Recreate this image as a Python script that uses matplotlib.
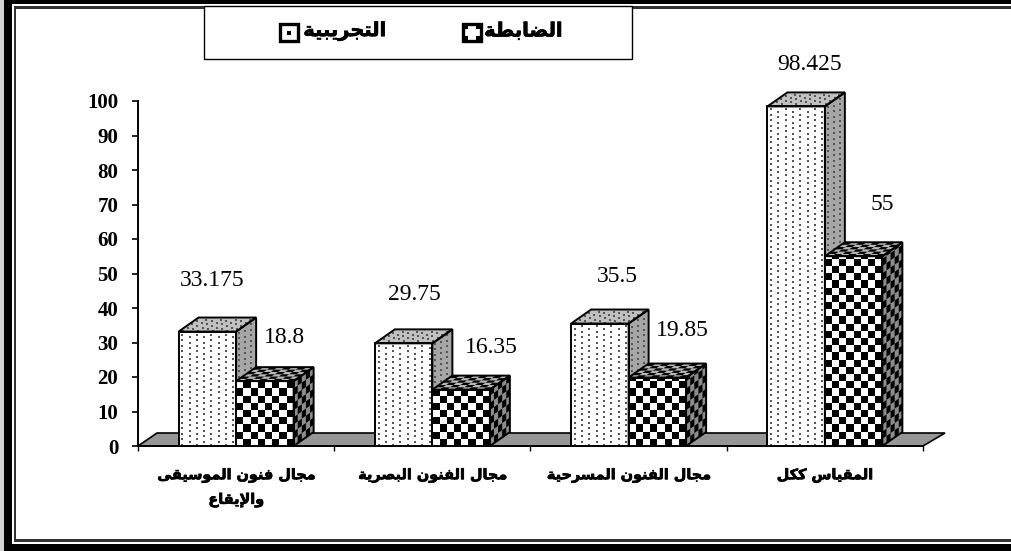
import unicodedata

import numpy as np
import matplotlib
matplotlib.use("Agg")
import matplotlib.pyplot as plt
import matplotlib.patheffects as pe
from matplotlib.collections import PolyCollection
from matplotlib.patches import Polygon, Rectangle

categories = ["مجال فنون الموسيقى\nوالإيقاع", "مجال الفنون البصرية", "مجال الفنون المسرحية", "المقياس ككل"]
experimental = [33.175, 29.75, 35.5, 98.425]
control = [18.8, 16.35, 19.85, 55]
experimental_labels = ["33.175", "29.75", "35.5", "98.425"]
control_labels = ["18.8", "16.35", "19.85", "55"]
legend_names = ["التجريبية", "الضابطة"]
y_ticks = list(range(0, 101, 10))

# where each number sits relative to its bar: pixels right of bar left, pixels above bar top
experimental_dx = [33.5, 40, 46, 42]
experimental_dy = [51, 49, 47, 42]
control_dx = [48.5, 58.5, 53.5, 57]
control_dy = [44, 42, 47, 52]

NO_LEFT_JOIN = "اأإآدذرزوةىء"
ARABIC_FONT = "DejaVu Sans"
SERIF = "Liberation Serif"
BOLDER = [pe.withStroke(linewidth=0.5, foreground="black")]

# pixel geometry of the plot
X0, X1 = 138, 923
Y0, Y100 = 446, 101
SX = (X1 - X0) / 4
SY = (Y0 - Y100) / 100
DEPTH_X = 20 / SX
DEPTH_Y = 14 / SY
BAR_W = 57.5 / SX
DOT_X = 7.3
DOT_Y = 5.5


def shape(text):
    """matplotlib has no Arabic shaping, so pick the joined forms and reverse the line"""
    lines = []
    for line in text.split("\n"):
        chars = list(line)
        out = []
        i = 0
        while i < len(chars):
            ch = chars[i]
            if ch == " ":
                out.append(ch)
                i += 1
                continue
            prev = chars[i - 1] if i > 0 else " "
            joins_prev = prev != " " and prev not in NO_LEFT_JOIN
            nxt = chars[i + 1] if i + 1 < len(chars) else " "
            if ch == "ل" and nxt in "اأإآ":
                name = unicodedata.name(nxt).replace("ARABIC LETTER ", "")
                form = "FINAL" if joins_prev else "ISOLATED"
                out.append(unicodedata.lookup(f"ARABIC LIGATURE LAM WITH {name} {form} FORM"))
                i += 2
                continue
            joins_next = nxt != " " and ch not in NO_LEFT_JOIN
            if joins_prev and joins_next:
                form = "MEDIAL"
            elif joins_prev:
                form = "FINAL"
            elif joins_next:
                form = "INITIAL"
            else:
                form = "ISOLATED"
            out.append(unicodedata.lookup(f"{unicodedata.name(ch)} {form} FORM"))
            i += 1
        lines.append("".join(reversed(out)))
    return "\n".join(lines)


def face(ax, corner, u, v, color, pattern, cell=(7.2, 7.2), z=3):
    """one parallelogram of a bar, u and v are edge vectors from corner"""
    corner, u, v = np.array(corner, float), np.array(u, float), np.array(v, float)
    pts = [corner, corner + u, corner + u + v, corner + v]
    ax.add_patch(Polygon(pts, closed=True, facecolor=color, edgecolor="none", zorder=z, clip_on=False))
    s = np.array((SX, SY))
    len_u = np.hypot(*(u * s))
    len_v = np.hypot(*(v * s))
    if pattern == "check":
        polys = []
        cu, cv = cell
        for a in range(int(np.ceil(len_u / cu))):
            for b in range(int(np.ceil(len_v / cv))):
                if (a + b) % 2 == 0:
                    continue
                a0, a1 = a * cu / len_u, min((a + 1) * cu / len_u, 1)
                b0, b1 = b * cv / len_v, min((b + 1) * cv / len_v, 1)
                polys.append([corner + a0 * u + b0 * v, corner + a1 * u + b0 * v,
                              corner + a1 * u + b1 * v, corner + a0 * u + b1 * v])
        ax.add_collection(PolyCollection(polys, facecolors="black", edgecolors="none", zorder=z, clip_on=False))
    else:
        px, py = [], []
        for a in range(int(len_u / DOT_X) + 1):
            for b in range(int(len_v / DOT_Y) + 1):
                along_u = (a + 0.5) * DOT_X
                along_v = (b + 0.25 + 0.5 * (a % 2)) * DOT_Y
                if along_u < len_u - 1.5 and along_v < len_v - 1.5:
                    p = corner + along_u / len_u * u + along_v / len_v * v
                    px.append(p[0])
                    py.append(p[1])
        ax.scatter(px, py, s=1.3, marker="s", color="#555555", linewidths=0, zorder=z, clip_on=False)
    ax.add_patch(Polygon(pts, closed=True, fill=False, edgecolor="black", linewidth=1.4, zorder=z + 0.1, clip_on=False))


def bar3d(ax, left, height, pattern, top_color, side_color, z):
    w = (BAR_W, 0)
    h = (0, height)
    d = (DEPTH_X, DEPTH_Y)
    face(ax, (left + BAR_W, 0), d, h, side_color, pattern, cell=(5, 7.2), z=z)
    face(ax, (left, height), w, d, top_color, pattern, cell=(7.2, 4), z=z)
    face(ax, (left, 0), w, h, "white", pattern, z=z)


fig = plt.figure(figsize=(10.12, 5.51), dpi=100, facecolor="white")

# frame and legend live on a pixel overlay
bg = fig.add_axes([0, 0, 1, 1])
bg.set_xlim(0, 1012)
bg.set_ylim(551, 0)
bg.axis("off")
bg.add_patch(Rectangle((0, 0), 4, 551, color="#d4d4d4", linewidth=0))
for x, y, w, h in [(4, 0, 1008, 4), (4, 544, 1008, 7), (4, 0, 8, 551)]:
    bg.add_patch(Rectangle((x, y), w, h, color="black", linewidth=0))
for x, y, w, h in [(14, 6, 998, 2.5), (14, 539, 998, 2.5), (14, 6, 2.5, 535.5)]:
    bg.add_patch(Rectangle((x, y), w, h, color="#333333", linewidth=0))
bg.add_patch(Rectangle((204.5, 6), 427.5, 53, facecolor="white", edgecolor="black", linewidth=1, zorder=2))

ax = fig.add_axes([X0 / 1012, 1 - Y0 / 551, (X1 - X0) / 1012, (Y0 - Y100) / 551])
ax.patch.set_alpha(0)
ax.set_xlim(0, 4)
ax.set_ylim(0, 100)
for side in ("top", "right"):
    ax.spines[side].set_visible(False)
for side in ("left", "bottom"):
    ax.spines[side].set_linewidth(1.4)

ax.add_patch(Polygon([(0, 0), (4, 0), (4 + 22 / SX, 13 / SY), (19 / SX, 13 / SY)], closed=True,
                     facecolor="#969696", edgecolor="black", linewidth=1.2, zorder=1, clip_on=False))

positions = np.arange(len(categories))
for i in positions:
    left = i + 0.5 - BAR_W
    bar3d(ax, left, experimental[i], "dots", "#c0c0c0", "#a6a6a6", 3 + i * 2)
    bar3d(ax, left + BAR_W, control[i], "check", "#b8b8b8", "#8c8c8c", 4 + i * 2)
    ax.annotate(experimental_labels[i], (left, experimental[i]),
                xytext=(experimental_dx[i] * 0.72, experimental_dy[i] * 0.72),
                textcoords="offset points", ha="center", va="center", family=SERIF, fontsize=17, zorder=20)
    ax.annotate(control_labels[i], (left + BAR_W, control[i]),
                xytext=(control_dx[i] * 0.72, control_dy[i] * 0.72),
                textcoords="offset points", ha="center", va="center", family=SERIF, fontsize=17, zorder=20)

ax.set_yticks(y_ticks)
ax.set_yticklabels([str(t) for t in y_ticks], family=SERIF, fontweight="bold", fontsize=15)
ax.tick_params(axis="y", direction="out", length=4.3, width=1.2, pad=10)
ax.set_xticks(np.arange(5))
ax.set_xticklabels([])
ax.tick_params(axis="x", which="major", direction="out", length=3.8, width=1)
ax.set_xticks(positions + 0.5, minor=True)
ax.set_xticklabels([shape(c) for c in categories], minor=True, family=ARABIC_FONT, fontweight="bold", fontsize=10.4,
                   linespacing=1.9, path_effects=BOLDER)
ax.tick_params(axis="x", which="minor", length=0, pad=16)

for name, text_x, box_x, marks in zip(legend_names, (387, 563), (280, 463),
                                      ([(9, 8.5)], [(3, 3), (15, 3), (3, 14), (15, 14)])):
    bg.text(text_x, 31, shape(name), ha="right", va="center", family=ARABIC_FONT, fontweight="bold", fontsize=14,
            path_effects=BOLDER, zorder=3)
    bg.add_patch(Rectangle((box_x, 24), 18, 17, facecolor="white", edgecolor="black", linewidth=2.4, zorder=3))
    bg.scatter([box_x + m[0] for m in marks], [24 + m[1] for m in marks], s=9, marker="s", color="black",
               linewidths=0, zorder=4)

fig.savefig("out.png", dpi=100)
